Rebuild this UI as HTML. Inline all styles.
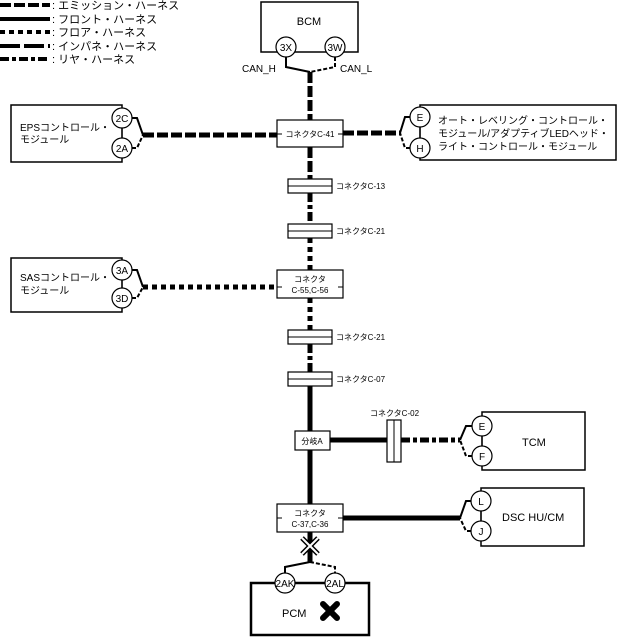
<!DOCTYPE html>
<html><head><meta charset="utf-8"><style>
body{margin:0;background:#fff}
svg{display:block}
text{font-family:"Liberation Sans","Noto Sans CJK JP",sans-serif;fill:#000}
</style></head><body>
<svg width="620" height="637" viewBox="0 0 620 637" xmlns="http://www.w3.org/2000/svg">
<g stroke="#000" stroke-width="4" fill="none">
<line x1="0" y1="5" x2="50" y2="5" stroke-dasharray="11 3"/>
<line x1="0" y1="19" x2="50" y2="19"/>
<line x1="0" y1="32" x2="50" y2="32" stroke-dasharray="5 4"/>
<line x1="0" y1="46" x2="50" y2="46" stroke-dasharray="20 4"/>
<line x1="0" y1="59" x2="50" y2="59" stroke-dasharray="9 3 4 3"/>
</g>
<g font-size="11">
<text x="52" y="9">: エミッション・ハーネス</text>
<text x="52" y="23">: フロント・ハーネス</text>
<text x="52" y="36">: フロア・ハーネス</text>
<text x="52" y="50">: インパネ・ハーネス</text>
<text x="52" y="63">: リヤ・ハーネス</text>
</g>

<g stroke="#000" stroke-width="5" fill="none">
<line x1="310" y1="72" x2="310" y2="120" stroke-dasharray="11 3"/>
<line x1="310" y1="147" x2="310" y2="179" stroke-dasharray="11 3"/>
<line x1="310" y1="193" x2="310" y2="224" stroke-dasharray="9 3 4 3"/>
<line x1="310" y1="238" x2="310" y2="270" stroke-dasharray="5 4"/>
<line x1="310" y1="298" x2="310" y2="330" stroke-dasharray="5 4"/>
<line x1="310" y1="344" x2="310" y2="372" stroke-dasharray="9 3 4 3"/>
<line x1="310" y1="386" x2="310" y2="504"/>
<line x1="310" y1="532" x2="310" y2="562"/>
<line x1="143" y1="135" x2="277" y2="135" stroke-dasharray="11 3"/>
<line x1="343" y1="133" x2="400" y2="133" stroke-dasharray="11 3"/>
<line x1="143" y1="287" x2="277" y2="287" stroke-dasharray="5 4"/>
<line x1="330" y1="440" x2="387" y2="440"/>
<line x1="401" y1="440" x2="460" y2="440" stroke-dasharray="9 3 4 3"/>
<line x1="343" y1="518" x2="460" y2="518"/>
</g>

<g stroke="#000" stroke-width="2" fill="none">
<path d="M286 57 V67 L310 72"/>
<path d="M335 57 V67 L310 72" stroke-dasharray="4 2"/>
<path d="M132 118 H137 L143 135"/>
<path d="M132 148 H137 L143 135" stroke-dasharray="4 2"/>
<path d="M132 270 H137 L143 287"/>
<path d="M132 298 H137 L143 287" stroke-dasharray="4 2"/>
<path d="M410 117 H405 L400 133"/>
<path d="M410 148 H405 L400 133" stroke-dasharray="4 2"/>
<path d="M472 426 H466 L460 440"/>
<path d="M472 456 H466 L460 440" stroke-dasharray="4 2"/>
<path d="M471 501 H466 L460 518"/>
<path d="M471 531 H466 L460 518" stroke-dasharray="4 2"/>
<path d="M310 562 L285 567 V573"/>
<path d="M310 562 L335 567 V573" stroke-dasharray="4 2"/>
</g>

<g stroke="#000" stroke-width="1.5" fill="#fff">
<rect x="261" y="2" width="97" height="50"/>
<rect x="11" y="105" width="111" height="57"/>
<rect x="420" y="105" width="196" height="55"/>
<rect x="11" y="258" width="111" height="54"/>
<rect x="482" y="412" width="103" height="58"/>
<rect x="481" y="488" width="103" height="58"/>
<rect x="251" y="583" width="118" height="52" stroke-width="2.5"/>
</g>
<g stroke="#000" stroke-width="1.2">
<line x1="122" y1="118" x2="122" y2="148"/>
<line x1="122" y1="270" x2="122" y2="298"/>
<line x1="420" y1="117" x2="420" y2="148"/>
<line x1="482" y1="426" x2="482" y2="456"/>
<line x1="481" y1="501" x2="481" y2="531"/>
</g>
<g stroke="#000" stroke-width="1.2" fill="#fff">
<circle cx="286" cy="47" r="10"/><circle cx="335" cy="47" r="10"/>
<circle cx="122" cy="118" r="10"/><circle cx="122" cy="148" r="10"/>
<circle cx="122" cy="270" r="10"/><circle cx="122" cy="298" r="10"/>
<circle cx="420" cy="117" r="10"/><circle cx="420" cy="148" r="10"/>
<circle cx="482" cy="426" r="10"/><circle cx="482" cy="456" r="10"/>
<circle cx="481" cy="501" r="10"/><circle cx="481" cy="531" r="10"/>
<circle cx="285" cy="583" r="10"/><circle cx="335" cy="583" r="10"/>
</g>
<g font-size="10" text-anchor="middle">
<text x="286" y="51">3X</text><text x="335" y="51">3W</text>
<text x="122" y="122">2C</text><text x="122" y="152">2A</text>
<text x="122" y="274">3A</text><text x="122" y="302">3D</text>
<text x="420" y="121">E</text><text x="420" y="152">H</text>
<text x="482" y="430">E</text><text x="482" y="460">F</text>
<text x="481" y="505">L</text><text x="481" y="535">J</text>
<text x="285" y="587">2AK</text><text x="335" y="587">2AL</text>
</g>

<g stroke="#000" stroke-width="1.2" fill="#fff">
<rect x="277" y="120" width="66" height="27"/>
<rect x="288" y="179" width="44" height="14"/>
<rect x="288" y="224" width="44" height="14"/>
<rect x="277" y="270" width="66" height="28"/>
<rect x="288" y="330" width="44" height="14"/>
<rect x="288" y="372" width="44" height="14"/>
<rect x="295" y="431" width="35" height="19"/>
<rect x="387" y="420" width="14" height="42"/>
<rect x="277" y="504" width="66" height="28"/>
</g>
<g stroke="#000" stroke-width="1">
<line x1="288" y1="186" x2="332" y2="186"/>
<line x1="288" y1="231" x2="332" y2="231"/>
<line x1="288" y1="337" x2="332" y2="337"/>
<line x1="288" y1="379" x2="332" y2="379"/>
<line x1="394" y1="420" x2="394" y2="462"/>
<line x1="277" y1="134" x2="282" y2="134"/><line x1="338" y1="134" x2="343" y2="134"/>
<line x1="277" y1="287" x2="282" y2="287"/><line x1="338" y1="287" x2="343" y2="287"/>
<line x1="277" y1="518" x2="282" y2="518"/><line x1="338" y1="518" x2="343" y2="518"/>
</g>
<g font-size="8">
<text x="310" y="137" text-anchor="middle">コネクタC-41</text>
<text x="336" y="189">コネクタC-13</text>
<text x="336" y="234">コネクタC-21</text>
<text x="310" y="282" text-anchor="middle">コネクタ</text>
<text x="310" y="293" text-anchor="middle">C-55,C-56</text>
<text x="336" y="340">コネクタC-21</text>
<text x="336" y="382">コネクタC-07</text>
<text x="312" y="444" text-anchor="middle">分岐A</text>
<text x="370" y="416">コネクタC-02</text>
<text x="310" y="516" text-anchor="middle">コネクタ</text>
<text x="310" y="527" text-anchor="middle">C-37,C-36</text>
</g>
<g font-size="10">
<text x="242" y="72">CAN_H</text>
<text x="340" y="72">CAN_L</text>
<text x="20" y="131">EPSコントロール・</text>
<text x="20" y="143">モジュール</text>
<text x="20" y="281">SASコントロール・</text>
<text x="20" y="294">モジュール</text>
<text x="438" y="124">オート・レベリング・コントロール・</text>
<text x="438" y="137">モジュール/アダプティブLEDヘッド・</text>
<text x="438" y="150">ライト・コントロール・モジュール</text>
</g>
<g font-size="11">
<text x="309" y="25" text-anchor="middle">BCM</text>
<text x="522" y="446">TCM</text>
<text x="502" y="521">DSC HU/CM</text>
<text x="282" y="617">PCM</text>
</g>
<g stroke="#000" stroke-width="6" stroke-linecap="round">
<line x1="323" y1="604" x2="337" y2="618"/><line x1="337" y1="604" x2="323" y2="618"/>
</g>
<g stroke="#000" stroke-width="5" stroke-linecap="butt">
<line x1="302" y1="538" x2="318" y2="554"/><line x1="318" y1="538" x2="302" y2="554"/>
</g>
<g stroke="#fff" stroke-width="2">
<line x1="302" y1="538" x2="318" y2="554"/><line x1="318" y1="538" x2="302" y2="554"/>
</g>
</svg>
</body></html>
